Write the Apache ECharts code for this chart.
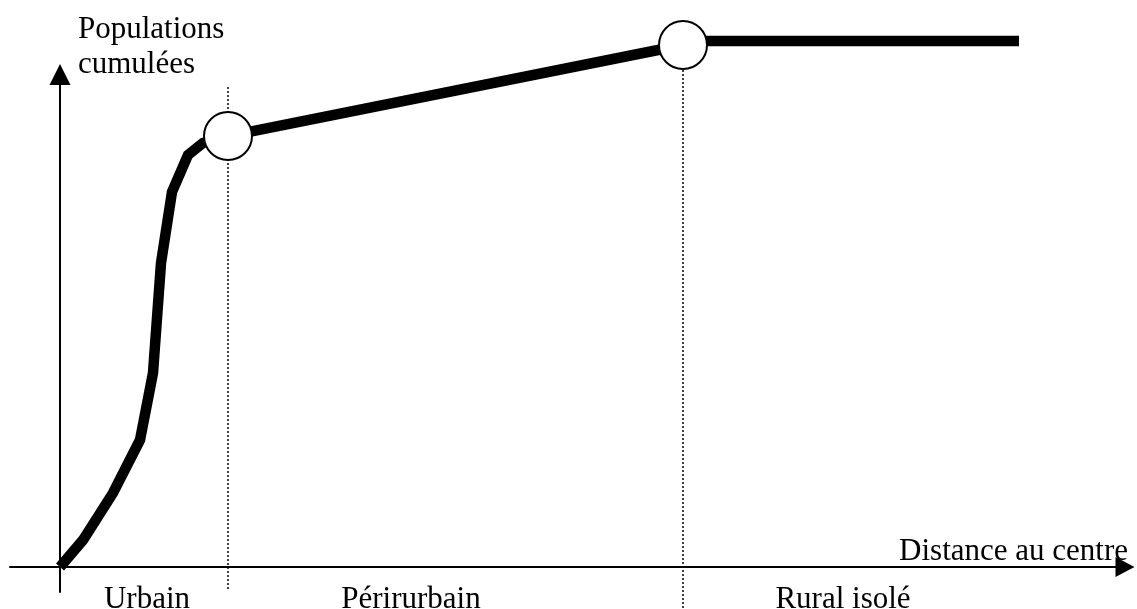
<!DOCTYPE html>
<html>
<head>
<meta charset="utf-8">
<script src="https://cdn.jsdelivr.net/npm/echarts@6/dist/echarts.min.js"></script>
<style>
  html, body { margin: 0; padding: 0; background: #fff; }
  #chart { width: 1137px; height: 609px; }
</style>
</head>
<body>
<div id="chart"></div>
<script>
// distance au centre (unités arbitraires) / populations cumulées
const distance = [0, 2.3, 5.3, 8.0, 9.3, 10.1, 11.2, 12.8, 14.3, 16.8, 62.3, 64, 95.9];
const population = [0, 5.4, 14.8, 25.4, 38.8, 60.8, 75, 82.4, 84.8, 86.2, 104.4, 105.2, 105.2];

// seuils entre les zones (cercles)
const thresholdX = [16.8, 62.3];
const thresholdY = [86.2, 104.4];
const dottedTop = [96, 99.4];
const dottedBottom = [-4.6, -8.4];

const zoneNames = ["Urbain", "Périrurbain", "Rural isolé"];
const zoneCenters = [8.7, 35.1, 78.3];

const font = "'Liberation Serif', 'Times New Roman', serif";

const chart = echarts.init(document.getElementById("chart"));

const dottedSeries = thresholdX.map((d, i) => ({
  type: "line",
  data: [[d, dottedTop[i]], [d, dottedBottom[i]]],
  clip: false,
  symbol: "none",
  silent: true,
  lineStyle: { color: "#000", width: 1.5, type: [2, 2] },
  z: 1
}));

chart.setOption({
  animation: false,
  backgroundColor: "#fff",
  grid: { left: 10, right: 12, top: 74.5, bottom: 17, containLabel: false, outerBoundsMode: "none" },
  xAxis: {
    type: "value",
    min: -5,
    max: 106.5,
    name: "Distance au centre",
    nameLocation: "end",
    nameGap: 3,
    nameTextStyle: {
      fontFamily: font, fontSize: 31, color: "#000",
      align: "right", verticalAlign: "bottom"
    },
    axisLine: {
      onZero: true,
      symbol: ["none", "triangle"],
      symbolSize: [20, 19],
      lineStyle: { color: "#000", width: 2 }
    },
    axisTick: { show: false },
    splitLine: { show: false },
    axisLabel: {
      customValues: zoneCenters,
      margin: -8,
      fontFamily: font, fontSize: 31, color: "#000",
      formatter: (v) => zoneNames[zoneCenters.indexOf(v)] || ""
    }
  },
  yAxis: {
    type: "value",
    min: -5,
    max: 98.5,
    name: "Populations\ncumulées",
    nameLocation: "end",
    nameGap: -7.5,
    nameTextStyle: {
      fontFamily: font, fontSize: 31, color: "#000", lineHeight: 35,
      align: "left", verticalAlign: "bottom", padding: [0, 0, 0, 18]
    },
    axisLine: {
      onZero: true,
      symbol: ["none", "triangle"],
      symbolSize: [21, 21],
      lineStyle: { color: "#000", width: 2 }
    },
    axisTick: { show: false },
    axisLabel: { show: false },
    splitLine: { show: false }
  },
  series: [
    {
      type: "line",
      data: distance.map((d, i) => [d, population[i]]),
      clip: false,
      symbol: "none",
      lineStyle: { color: "#000", width: 10.5, cap: "butt", join: "miter" },
      z: 3
    },
    {
      type: "scatter",
      data: thresholdX.map((d, i) => [d, thresholdY[i]]),
      clip: false,
      symbol: "circle",
      symbolSize: 48,
      itemStyle: { color: "#fff", borderColor: "#000", borderWidth: 2, opacity: 1 },
      z: 5
    },
    ...dottedSeries
  ]
});
</script>
</body>
</html>
